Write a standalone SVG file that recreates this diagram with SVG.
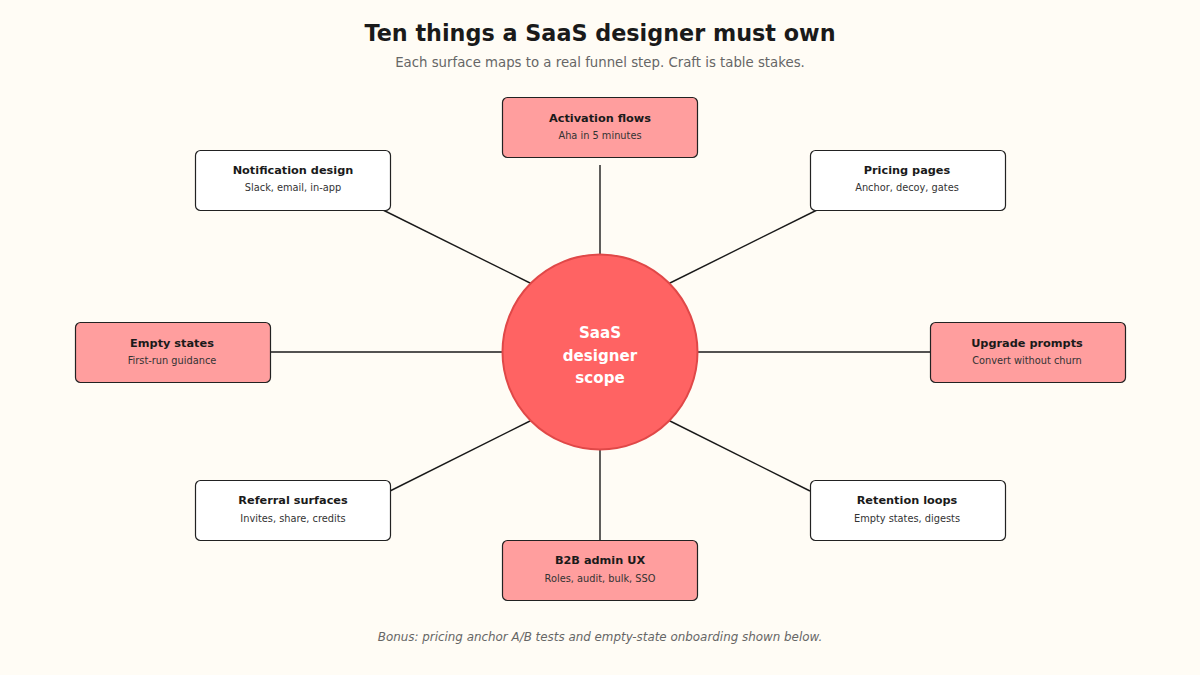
<svg xmlns="http://www.w3.org/2000/svg" width="1200" height="675" viewBox="0 0 1200 675">
<style>
.bg{fill:#FFFCF5}
.box{stroke:#222;stroke-width:1.2}
.hot{fill:#FF9E9E}
.cold{fill:#FFFFFF}
.t{font-family:"DejaVu Sans",sans-serif;font-weight:bold;font-size:11.3px;fill:#1a1a1a;text-anchor:middle}
.s{font-family:"DejaVu Sans",sans-serif;font-size:9.8px;fill:#333;text-anchor:middle}
.ln{stroke:#1a1a1a;stroke-width:1.4;fill:none}
</style>
<rect class="bg" x="0" y="0" width="1200" height="675"/>
<text x="600" y="41" font-family="DejaVu Sans,sans-serif" font-weight="bold" font-size="22.3" fill="#1a1a1a" text-anchor="middle">Ten things a SaaS designer must own</text>
<text x="600" y="67" font-family="DejaVu Sans,sans-serif" font-size="13.3" fill="#666" text-anchor="middle">Each surface maps to a real funnel step. Craft is table stakes.</text>
<g id="connectors">
<line class="ln" x1="600" y1="165" x2="600" y2="255"/>
<line class="ln" x1="383" y1="210" x2="532" y2="284"/>
<line class="ln" x1="817" y1="210" x2="668" y2="284"/>
<line class="ln" x1="270" y1="352" x2="502" y2="352"/>
<line class="ln" x1="697" y1="352" x2="930" y2="352"/>
<line class="ln" x1="390" y1="491" x2="532" y2="420"/>
<line class="ln" x1="810" y1="491" x2="668" y2="420"/>
<line class="ln" x1="600" y1="450" x2="600" y2="540"/>
</g>
<g id="center">
<circle cx="600" cy="352" r="97.5" fill="#FF6363" stroke="#E04848" stroke-width="2"/>
<text font-family="DejaVu Sans,sans-serif" font-weight="bold" font-size="15.1" fill="#FFFFFF" text-anchor="middle"><tspan x="600" y="338">SaaS</tspan><tspan x="600" y="361">designer</tspan><tspan x="600" y="383">scope</tspan></text>
</g>
<g id="activation">
<rect class="box hot" x="502.5" y="97.5" width="195" height="60" rx="5"/>
<text class="t" x="600" y="122">Activation flows</text>
<text class="s" x="600" y="139">Aha in 5 minutes</text>
</g>
<g id="notification">
<rect class="box cold" x="195.5" y="150.5" width="195" height="60" rx="5"/>
<text class="t" x="293" y="174">Notification design</text>
<text class="s" x="293" y="191">Slack, email, in-app</text>
</g>
<g id="pricing">
<rect class="box cold" x="810.5" y="150.5" width="195" height="60" rx="5"/>
<text class="t" x="907" y="174">Pricing pages</text>
<text class="s" x="907" y="191">Anchor, decoy, gates</text>
</g>
<g id="empty">
<rect class="box hot" x="75.5" y="322.5" width="195" height="60" rx="5"/>
<text class="t" x="172" y="347">Empty states</text>
<text class="s" x="172" y="364">First-run guidance</text>
</g>
<g id="upgrade">
<rect class="box hot" x="930.5" y="322.5" width="195" height="60" rx="5"/>
<text class="t" x="1027" y="347">Upgrade prompts</text>
<text class="s" x="1027" y="364">Convert without churn</text>
</g>
<g id="referral">
<rect class="box cold" x="195.5" y="480.5" width="195" height="60" rx="5"/>
<text class="t" x="293" y="504">Referral surfaces</text>
<text class="s" x="293" y="522">Invites, share, credits</text>
</g>
<g id="retention">
<rect class="box cold" x="810.5" y="480.5" width="195" height="60" rx="5"/>
<text class="t" x="907" y="504">Retention loops</text>
<text class="s" x="907" y="522">Empty states, digests</text>
</g>
<g id="b2b">
<rect class="box hot" x="502.5" y="540.5" width="195" height="60" rx="5"/>
<text class="t" x="600" y="564">B2B admin UX</text>
<text class="s" x="600" y="582">Roles, audit, bulk, SSO</text>
</g>
<text x="600" y="641" font-family="DejaVu Sans,sans-serif" font-style="italic" font-size="11.9" fill="#666" text-anchor="middle">Bonus: pricing anchor A/B tests and empty-state onboarding shown below.</text>
</svg>
